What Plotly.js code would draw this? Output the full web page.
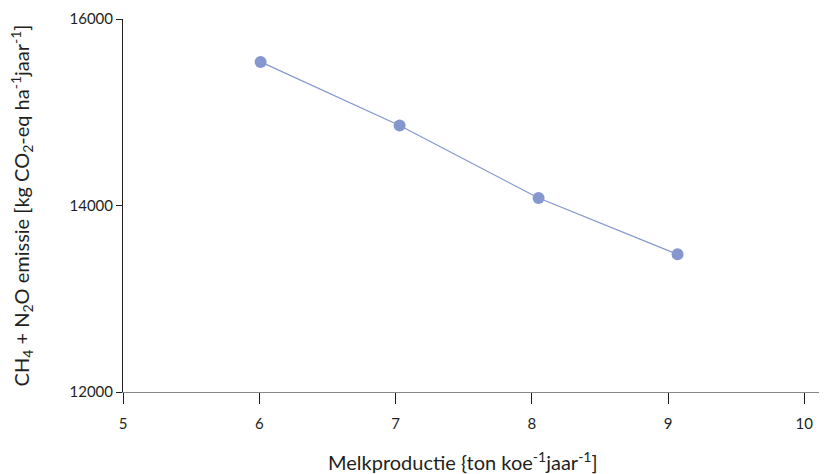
<!DOCTYPE html>
<html>
<head>
<meta charset="utf-8">
<script src="https://cdn.plot.ly/plotly-3.0.1.min.js"></script>
<style>html,body{margin:0;padding:0;background:#fff;}#chart{width:828px;height:474px;}</style>
</head>
<body>
<div id="chart"></div>
<script>
const melkproductie = [6.01, 7.03, 8.05, 9.07];
const emissie = [15540, 14858, 14080, 13476];
const xTicks = [5, 6, 7, 8, 9, 10];
const yTicks = [12000, 14000, 16000];
const xTitle = 'Melkproductie {ton koe<sup>-1</sup>jaar<sup>-1</sup>]';
const yTitle = 'CH<sub>4</sub> + N<sub>2</sub>O emissie [kg CO<sub>2</sub>-eq ha<sup>-1</sup>jaar<sup>-1</sup>]';

const font = "Lato, 'Open Sans', sans-serif";
const pointColor = 'rgb(132,151,206)';

Plotly.newPlot('chart', [{
  x: melkproductie,
  y: emissie,
  type: 'scatter',
  mode: 'lines+markers',
  line: {color: pointColor, width: 1.2},
  marker: {color: pointColor, size: 12},
  hoverinfo: 'none'
}], {
  width: 828, height: 474,
  margin: {l: 123, r: 9, t: 19, b: 82},
  paper_bgcolor: '#fff', plot_bgcolor: '#fff',
  showlegend: false,
  font: {family: font, color: '#231f20', size: 15},
  xaxis: {
    range: [5, 10.108],
    tickvals: xTicks, ticktext: xTicks.map(String),
    showgrid: false, zeroline: false,
    showline: true, linecolor: '#888', linewidth: 1.3,
    ticks: 'outside', ticklen: 11, tickcolor: '#231f20', tickwidth: 1,
    ticklabelstandoff: 7,
    tickfont: {size: 15, family: font, color: '#231f20'}
  },
  yaxis: {
    range: [12000, 16000],
    tickvals: yTicks, ticktext: yTicks.map(String),
    showgrid: false, zeroline: false,
    showline: true, linecolor: '#231f20', linewidth: 1,
    ticks: 'outside', ticklen: 6, tickcolor: '#231f20', tickwidth: 1,
    tickfont: {size: 15, family: font, color: '#231f20'},
    title: {text: yTitle, font: {size: 20, family: font, color: '#231f20'}, standoff: 34}
  },
  annotations: [{
    text: xTitle, xref: 'paper', yref: 'paper', x: 0.489, y: 0,
    yshift: -69, xanchor: 'center', yanchor: 'middle', showarrow: false,
    font: {size: 20, family: font, color: '#231f20'}
  }]
}, {displayModeBar: false, staticPlot: true});
</script>
</body>
</html>
